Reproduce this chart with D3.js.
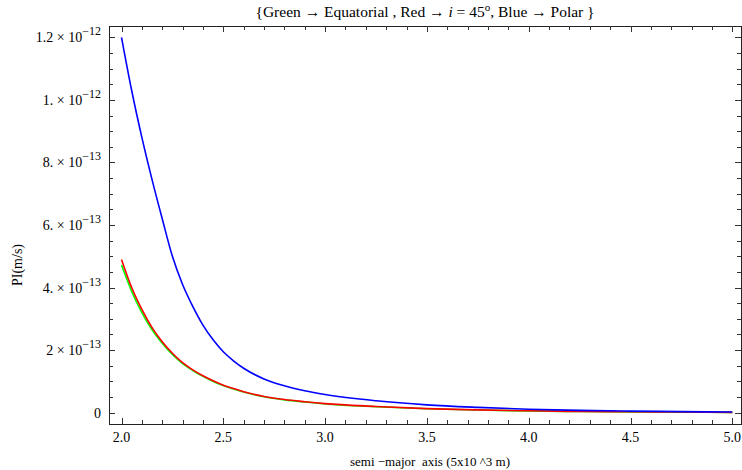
<!DOCTYPE html>
<html>
<head>
<meta charset="utf-8">
<script src="https://cdn.jsdelivr.net/npm/d3@7"></script>
<style>
  body { margin: 0; background: #fff; }
  text { font-family: "Liberation Serif", "Times New Roman", serif; fill: #000; }
</style>
</head>
<body>
<svg id="chart" width="742" height="470"></svg>
<script>
// semi-major axis (x 5x10^3 m)
const semiMajor = [2.0, 2.05, 2.1, 2.15, 2.2, 2.25, 2.3, 2.35, 2.4, 2.45, 2.5, 2.55, 2.6,
                   2.7, 2.8, 2.9, 3.0, 3.25, 3.5, 3.75, 4.0, 4.25, 4.5, 4.75, 5.0];
// PI values in units of 1e-13 m/s
const equatorial = [4.72, 3.88, 3.2, 2.65, 2.22, 1.86, 1.57, 1.35, 1.16, 1.0, 0.87, 0.76, 0.66,
                    0.51, 0.41, 0.34, 0.28, 0.19, 0.125, 0.085, 0.055, 0.038, 0.027, 0.018, 0.01];
const inclined45 = [4.9, 4.0, 3.3, 2.72, 2.27, 1.9, 1.6, 1.37, 1.18, 1.02, 0.88, 0.77, 0.67,
                    0.52, 0.42, 0.35, 0.29, 0.2, 0.13, 0.09, 0.06, 0.04, 0.03, 0.02, 0.01];
const polar = [12.0, 10.3, 8.8, 7.45, 6.2, 5.0, 4.1, 3.4, 2.8, 2.33, 1.95, 1.66, 1.42,
               1.08, 0.86, 0.7, 0.58, 0.38, 0.25, 0.17, 0.11, 0.075, 0.05, 0.035, 0.02];

const xTicks = [2.0, 2.5, 3.0, 3.5, 4.0, 4.5, 5.0];
const xTickLabels = ["2.0", "2.5", "3.0", "3.5", "4.0", "4.5", "5.0"];
const yTicks = [0, 2e-13, 4e-13, 6e-13, 8e-13, 1e-12, 1.2e-12];
const yTickMant = ["0", "2", "4.", "6.", "8.", "1.", "1.2"];
const yTickExp = ["", "\u221213", "\u221213", "\u221213", "\u221213", "\u221212", "\u221212"];

const svg = d3.select("#chart");
const frame = { left: 109, right: 741, top: 26, bottom: 424 };

const x = d3.scaleLinear().domain([2, 5]).range([121.5, 732.3]);
const y = d3.scaleLinear().domain([0, 1.2e-12]).range([412.7, 37.3]);

// title
const title = svg.append("text")
  .attr("x", 425).attr("y", 17)
  .attr("text-anchor", "middle")
  .style("font-size", "15.5px");
title.append("tspan").text("{Green \u2192 Equatorial , Red \u2192 ");
title.append("tspan").style("font-style", "italic").text("i");
title.append("tspan").text(" = 45");
title.append("tspan").attr("dy", -6).style("font-size", "11px").text("o");
title.append("tspan").attr("dy", 6).text(", Blue \u2192 Polar }");

// curves
const line = d3.line()
  .x((d, i) => x(semiMajor[i]))
  .y(d => y(d * 1e-13))
  .curve(d3.curveMonotoneX);

const series = [
  { values: equatorial, color: "#00ff00" },
  { values: inclined45, color: "#ff0000" },
  { values: polar, color: "#0000ff" }
];

const plot = svg.append("g");
plot.selectAll("path")
  .data(series)
  .enter().append("path")
  .attr("d", d => line(d.values))
  .attr("fill", "none")
  .attr("stroke", d => d.color)
  .attr("stroke-width", 1.6);

// frame
svg.append("rect")
  .attr("x", frame.left + 0.5).attr("y", frame.top + 0.5)
  .attr("width", frame.right - frame.left)
  .attr("height", frame.bottom - frame.top)
  .attr("fill", "none")
  .attr("stroke", "#222")
  .attr("stroke-width", 1);

// ticks
const xMinor = d3.range(20, 51).map(v => v / 10).filter(v => !xTicks.includes(v));
const yMinor = d3.range(0, 25).map(v => v * 0.5e-13).filter(v => !yTicks.some(t => Math.abs(t - v) < 1e-16));

const ticks = svg.append("g").attr("stroke", "#333").attr("stroke-width", 1);
function xTick(v, len) {
  const px = Math.round(x(v)) + 0.5;
  ticks.append("line").attr("x1", px).attr("x2", px).attr("y1", frame.bottom).attr("y2", frame.bottom - len);
  ticks.append("line").attr("x1", px).attr("x2", px).attr("y1", frame.top).attr("y2", frame.top + len);
}
function yTick(v, len) {
  const py = Math.round(y(v)) + 0.5;
  ticks.append("line").attr("x1", frame.left).attr("x2", frame.left + len).attr("y1", py).attr("y2", py);
  ticks.append("line").attr("x1", frame.right).attr("x2", frame.right - len).attr("y1", py).attr("y2", py);
}
xTicks.forEach(v => xTick(v, 6));
xMinor.forEach(v => xTick(v, 4));
yTicks.forEach(v => yTick(v, 6));
yMinor.forEach(v => yTick(v, 4));

// x tick labels
svg.append("g").selectAll("text")
  .data(xTicks)
  .enter().append("text")
  .attr("x", d => x(d))
  .attr("y", 442)
  .attr("text-anchor", "middle")
  .style("font-size", "14px")
  .text((d, i) => xTickLabels[i]);

// y tick labels
const yl = svg.append("g").selectAll("text")
  .data(yTicks)
  .enter().append("text")
  .attr("x", 101)
  .attr("y", d => y(d) + 5)
  .attr("text-anchor", "end")
  .style("font-size", "14px");
yl.append("tspan").text((d, i) => i === 0 ? "0" : yTickMant[i] + " \u00d7 10");
yl.filter((d, i) => i > 0).append("tspan")
  .attr("dy", -7).style("font-size", "12px")
  .text((d, i) => yTickExp[i + 1]);

// axis titles
svg.append("text")
  .attr("x", 430).attr("y", 466)
  .attr("text-anchor", "middle")
  .style("font-size", "13px")
  .style("white-space", "pre")
  .text("semi \u2212major  axis (5x10 ^3 m)");

svg.append("text")
  .attr("transform", "translate(22,265) rotate(-90)")
  .attr("text-anchor", "middle")
  .style("font-size", "14px")
  .text("PI(m/s)");
</script>
</body>
</html>
